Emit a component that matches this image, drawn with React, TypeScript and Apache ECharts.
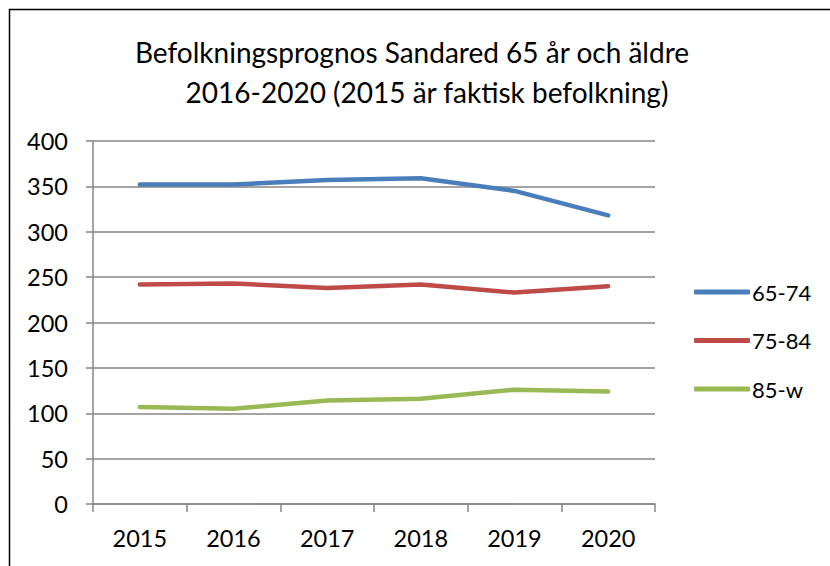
import React, { useEffect, useRef } from "react";
import * as echarts from "echarts";

const categories = ["2015", "2016", "2017", "2018", "2019", "2020"];
const series6574 = [352, 352, 357, 359, 345, 318];
const series7584 = [242, 243, 238, 242, 233, 240];
const series85w = [107, 105, 114, 116, 126, 124];
const titleLine1 = "Befolkningsprognos Sandared 65 år och äldre";
const titleLine2 = "2016-2020 (2015 är faktisk befolkning)";

const FONT = "Lato, 'Open Sans', sans-serif";

export default function App() {
  const ref = useRef<HTMLDivElement>(null);
  useEffect(() => {
    if (!ref.current) return;
    const chart = echarts.init(ref.current, undefined, { renderer: "svg" });
    const mk = (name: string, data: number[], color: string) => ({
      name,
      type: "line",
      data,
      symbol: "none",
      smooth: false,
      lineStyle: { color, width: 4.5, cap: "round", join: "round" },
      itemStyle: { color },
    });
    chart.setOption({
      animation: false,
      backgroundColor: "#ffffff",
      textStyle: { fontFamily: FONT },
      graphic: [
        {
          type: "rect",
          shape: { x: 9.5, y: 9.5, width: 900, height: 700 },
          style: { fill: "none", stroke: "#000", lineWidth: 1.5 },
          silent: true,
        },
        {
          type: "text",
          x: 412,
          y: 52,
          style: {
            text: titleLine1,
            fontFamily: FONT,
            fontSize: 28,
            fill: "#000",
            align: "center",
            verticalAlign: "middle",
          },
        },
        {
          type: "text",
          x: 427,
          y: 92,
          style: {
            text: titleLine2,
            fontFamily: FONT,
            fontSize: 28,
            fill: "#000",
            align: "center",
            verticalAlign: "middle",
          },
        },
      ],
      legend: {
        orient: "vertical",
        left: 694,
        top: 281,
        padding: 0,
        itemWidth: 56,
        itemHeight: 5,
        itemGap: 26.5,
        icon: "roundRect",
        textStyle: { fontFamily: FONT, fontSize: 22, color: "#000", padding: [0, 0, 0, -3] },
        data: ["65-74", "75-84", "85-w"],
      },
      grid: { left: 93, right: 175, top: 141, bottom: 62, containLabel: false },
      xAxis: {
        type: "category",
        data: categories,
        boundaryGap: true,
        axisLine: { lineStyle: { color: "#868686", width: 1.5 } },
        axisTick: { show: true, length: 8, lineStyle: { color: "#868686", width: 1.5 }, alignWithLabel: false },
        axisLabel: { color: "#000", fontFamily: FONT, fontSize: 23.5, margin: 22 },
        splitLine: { show: false },
      },
      yAxis: {
        type: "value",
        min: 0,
        max: 400,
        interval: 50,
        axisLine: { show: true, lineStyle: { color: "#868686", width: 1.5 } },
        axisTick: { show: true, length: 7, lineStyle: { color: "#868686", width: 1.5 } },
        axisLabel: { color: "#000", fontFamily: FONT, fontSize: 23.5, margin: 25 },
        splitLine: { show: true, lineStyle: { color: "#868686", width: 1.5 } },
      },
      series: [
        mk("65-74", series6574, "#4A7EBB"),
        mk("75-84", series7584, "#BE4B48"),
        mk("85-w", series85w, "#98B954"),
      ],
    });
    return () => chart.dispose();
  }, []);
  return <div ref={ref} style={{ width: 830, height: 566, position: "absolute", left: 0, top: 0 }} />;
}
